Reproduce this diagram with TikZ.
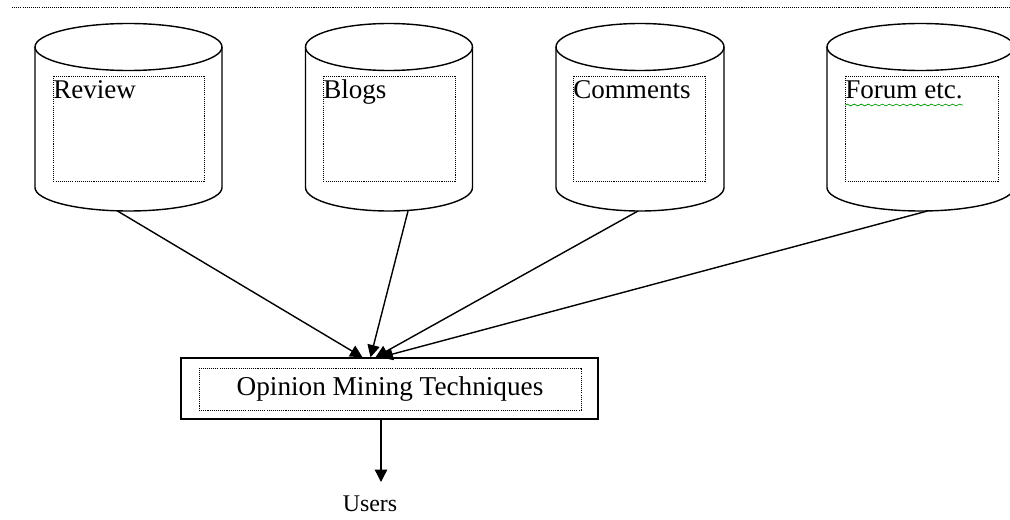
\documentclass[tikz,border=0pt]{standalone}
\usepackage{fontspec}
\setmainfont{Liberation Serif}
\usetikzlibrary{arrows.meta,decorations.pathmorphing}

\tikzset{
    drum/.style={line width=0.8pt},
    inbox/.style={draw, dash pattern=on 0.6pt off 0.6pt, line width=0.5pt},
    outbox/.style={draw, line width=0.8pt, minimum width=8.34cm, minimum height=1.22cm, inner sep=0pt},
    feed/.style={line width=0.8pt, -{Triangle[length=7pt,width=7pt]}},
    srclabel/.style={anchor=base west, inner sep=0pt, font=\fontsize{15.4}{18}\selectfont}
}

\begin{document}
\begin{tikzpicture}[x=0.02cm,y=0.02cm]
        \useasboundingbox (0,0) rectangle (1010,-520);
        %% top rule
        \draw[dash pattern=on 0.6pt off 0.6pt, line width=0.5pt] (12,-7) -- (1010,-7);
        %% review store
        \begin{scope}[shift={(128.5,0)}]
            \draw[drum] (0,-47) ellipse (93.5 and 23.5);
            \draw[drum] (-93.5,-47) -- (-93.5,-187.5) arc[start angle=180,end angle=360,x radius=93.5,y radius=23.5] -- (93.5,-47);
            \draw[inbox] (-75.5,-76) rectangle (75.5,-181);
            \node[srclabel] (review) at (-75.5,-99) {Review};
            \coordinate (rev) at (-11,-211);
        \end{scope}
        %% blogs store
        \begin{scope}[shift={(389,0)}]
            \draw[drum] (0,-47) ellipse (83.5 and 23.5);
            \draw[drum] (-83.5,-47) -- (-83.5,-187.5) arc[start angle=180,end angle=360,x radius=83.5,y radius=23.5] -- (83.5,-47);
            \draw[inbox] (-66,-76) rectangle (66,-181);
            \node[srclabel] (blogs) at (-66,-99) {Blogs};
            \coordinate (blg) at (19,-211);
        \end{scope}
        %% comments store
        \begin{scope}[shift={(640,0)}]
            \draw[drum] (0,-47) ellipse (84 and 23.5);
            \draw[drum] (-84,-47) -- (-84,-187.5) arc[start angle=180,end angle=360,x radius=84,y radius=23.5] -- (84,-47);
            \draw[inbox] (-67,-76) rectangle (65,-181);
            \node[srclabel] (comments) at (-67,-99) {Comments};
            \coordinate (cmt) at (-2,-211);
        \end{scope}
        %% forum store
        \begin{scope}[shift={(920.5,0)}]
            \draw[drum] (0,-47) ellipse (93.5 and 23.5);
            \draw[drum] (-93.5,-47) -- (-93.5,-187.5) arc[start angle=180,end angle=360,x radius=93.5,y radius=23.5] -- (93.5,-47);
            \draw[inbox] (-75.5,-76) rectangle (77.5,-181);
            \node[srclabel] (forum) at (-75.5,-99) {Forum etc.};
            \draw[green!60!black, line width=0.4pt, decorate, decoration={snake, amplitude=0.5, segment length=4}] (forum.base west) ++(0,-6) -- ++(118,0);
            \coordinate (frm) at (7,-211);
        \end{scope}
        %% techniques box
        \node[outbox] (omt) at (389.5,-388.5) {};
        \node[inbox, minimum width=7.64cm, minimum height=0.84cm, inner sep=0pt, font=\fontsize{15.5}{18}\selectfont] (omtin) at (390,-389) {Opinion Mining Techniques};
        \draw[feed] (rev) -- ([xshift=-27*0.02cm]omt.north);
        \draw[feed] (blg) -- ([xshift=-19*0.02cm]omt.north);
        \draw[feed] (cmt) -- ([xshift=-14*0.02cm]omt.north);
        \draw[feed] (frm) -- ([xshift=-9*0.02cm]omt.north);
        %% output
        \coordinate (usr) at (381,-482);
        \node[anchor=base, inner sep=0pt, font=\fontsize{13.6}{16}\selectfont] (users) at (370,-511) {Users};
        \draw[feed] ([xshift=-8.5*0.02cm]omt.south) -- (usr);
\end{tikzpicture}
\end{document}
